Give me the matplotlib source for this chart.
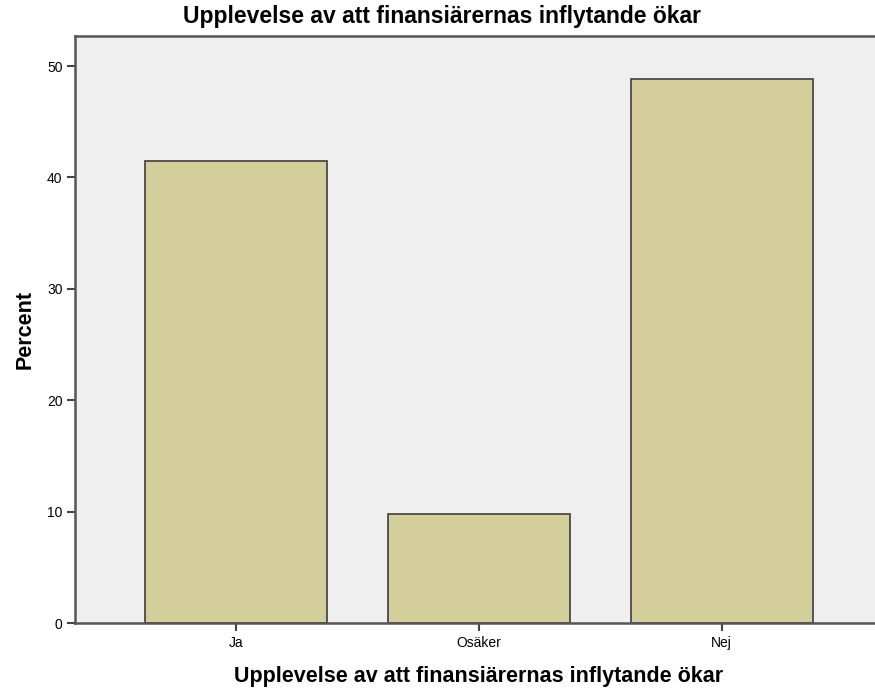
import matplotlib.pyplot as plt

plt.rcParams['font.family'] = ['Liberation Sans', 'DejaVu Sans']

categories = ['Ja', 'Osäker', 'Nej']
percent = [41.5, 9.8, 48.8]
yticks = [0, 10, 20, 30, 40, 50]

title = 'Upplevelse av att finansiärernas inflytande ökar'

fig = plt.figure(figsize=(8.75, 6.94), dpi=100)
ax = fig.add_axes([0.0857, 0.1023, 0.923, 0.8458])
ax.set_facecolor('#efefef')

x = range(len(categories))
ax.bar(x, percent, width=0.75, color='#d3ce9a', edgecolor='#4a4a4a', linewidth=1.3, zorder=2)

ax.set_xlim(-0.663, 2.663)
ax.set_ylim(0, 52.7)
ax.set_xticks(list(x))
ax.set_xticklabels(categories, fontsize=10)
ax.set_yticks(yticks)
ax.set_yticklabels([str(v) for v in yticks], fontsize=10)
ax.tick_params(axis='both', direction='out', length=6, width=1.5, color='#444444', pad=3)

for side in ['left', 'bottom', 'top']:
    ax.spines[side].set_color('#555555')
    ax.spines[side].set_linewidth(1.8)
ax.spines['right'].set_visible(False)

ax.set_ylabel('Percent', fontsize=15.5, fontweight='bold', labelpad=8)
ax.set_xlabel(title, fontsize=15.5, fontweight='bold', labelpad=12)
# title sits a bit left of the axes centre in the original
fig.text(442 / 875, 1 - 17 / 694, title, fontsize=16.5, fontweight='bold',
         ha='center', va='center')

fig.savefig('out.png', dpi=100)
